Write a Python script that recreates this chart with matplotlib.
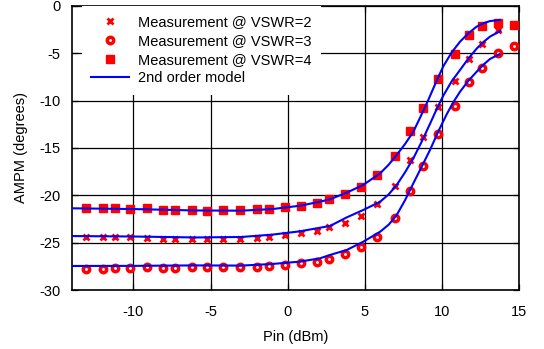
import numpy as np
import matplotlib
matplotlib.use("Agg")
import matplotlib.pyplot as plt

plt.rcParams['font.family'] = ['Liberation Sans', 'DejaVu Sans']

# Measurement input power points (dBm)
pin = [-13.05, -12.0, -11.2, -10.2, -9.15, -8.1, -7.3, -6.23, -5.22, -4.18,
       -3.1, -2.01, -1.24, -0.2, 0.87, 1.88, 2.7, 3.72, 4.75, 5.81,
       6.96, 7.95, 8.76, 9.77, 10.82, 11.78, 12.63, 13.66, 14.7]

vswr2 = [-24.4, -24.4, -24.4, -24.45, -24.5, -24.6, -24.6, -24.65, -24.65, -24.65,
         -24.65, -24.47, -24.37, -24.22, -24.0, -23.74, -23.38, -22.9, -22.18, -20.95,
         -19.0, -16.3, -13.87, -10.7, -7.92, -5.56, -4.05, -2.54, np.nan]

vswr3 = [-27.82, -27.78, -27.71, -27.64, -27.6, -27.64, -27.64, -27.57, -27.6, -27.6,
         -27.6, -27.54, -27.46, -27.36, -27.18, -27.0, -26.76, -26.2, -25.5, -24.37,
         -22.36, -19.5, -16.9, -13.5, -10.53, -8.06, -6.51, -4.93, -4.22]

vswr4 = [-21.3, -21.3, -21.3, -21.44, -21.37, -21.55, -21.55, -21.6, -21.62, -21.55,
         -21.55, -21.44, -21.44, -21.27, -21.1, -20.8, -20.35, -19.82, -19.08, -17.88,
         -15.81, -13.17, -10.81, -7.71, -5.1, -3.1, -2.08, -1.76, -2.0]

# 2nd order model curves
m4_x = [-14, -10, -6, -3, -1, 0.8, 2.1, 2.74, 3.83, 4.9, 6.0, 6.53, 7.07, 7.61, 8.15, 8.6,
        9.1, 9.66, 10.1, 10.64, 11.18, 11.72, 12.26, 12.69, 13.12, 13.75]
m4_y = [-21.37, -21.45, -21.6, -21.62, -21.45, -21.1, -20.67, -20.42, -19.72, -18.9, -17.67,
        -16.8, -15.74, -14.58, -13.28, -11.75, -10.0, -7.9, -6.35, -4.9, -3.77, -2.89,
        -2.18, -1.83, -1.6, -1.48]

m2_x = [-14, -10, -6, -3, -1, 0.8, 2.1, 2.74, 3.83, 4.9, 6.0, 6.55, 7.07, 7.6, 8.15, 8.7,
        9.23, 9.66, 10.1, 10.64, 11.18, 11.72, 12.26, 12.7, 13.12, 13.8]
m2_y = [-24.3, -24.35, -24.45, -24.4, -24.15, -23.8, -23.42, -23.24, -22.33, -21.55, -20.67,
        -19.9, -18.91, -17.6, -16.09, -14.3, -12.45, -10.9, -9.45, -7.95, -6.76, -5.55,
        -4.5, -3.8, -3.24, -2.64]

m3_x = [-14, -10, -6, -3, -1, 0.8, 2.1, 2.74, 3.83, 4.9, 6.0, 6.55, 7.07, 7.6, 8.15, 8.7,
        9.23, 9.77, 10.31, 10.75, 11.18, 11.72, 12.26, 12.7, 13.12, 13.73]
m3_y = [-27.46, -27.45, -27.4, -27.42, -27.25, -27.0, -26.65, -26.3, -25.77, -24.9, -23.84,
        -23.1, -22.08, -20.55, -18.73, -16.95, -15.21, -13.25, -11.45, -10.15, -9.05, -7.9,
        -6.94, -6.2, -5.6, -5.1]

xticks = [-10, -5, 0, 5, 10, 15]
yticks = [0, -5, -10, -15, -20, -25, -30]

fig = plt.figure(figsize=(5.44, 3.49), dpi=100)
ax = fig.add_axes([0.132, 0.169, 0.822, 0.814])

red = '#ff0000'
blue = '#0000ff'

ax.plot(pin, vswr2, linestyle='none', marker='x', color=red, markersize=5, mew=2,
        label='Measurement @ VSWR=2', zorder=3)
ax.plot(pin, vswr3, linestyle='none', marker='o', color=red, markersize=4.6,
        markerfacecolor='white', mec=red, mew=2.5, label='Measurement @ VSWR=3', zorder=3)
ax.plot(pin, vswr4, linestyle='none', marker='s', color=red, markersize=5.5,
        label='Measurement @ VSWR=4', zorder=3)
ax.plot(m4_x, m4_y, color=blue, lw=1.5, label='2nd order model', zorder=4)
ax.plot(m2_x, m2_y, color=blue, lw=1.5, zorder=4)
ax.plot(m3_x, m3_y, color=blue, lw=1.5, zorder=4)

ax.set_xlim(-14, 15)
ax.set_ylim(-30, 0)
ax.set_xticks(xticks)
ax.set_yticks(yticks)
ax.set_xticklabels([str(t) for t in xticks])
ax.set_yticklabels([str(t) for t in yticks])
ax.grid(True, color='black', lw=0.9)
ax.tick_params(direction='in', length=4, width=0.9, top=True, right=True, labelsize=10.5)
ax.tick_params(axis='x', pad=11)
ax.tick_params(axis='y', pad=8)
for s in ax.spines.values():
    s.set_linewidth(1.2)

ax.set_xlabel('Pin (dBm)', fontsize=10.5, labelpad=8)
ax.set_ylabel('AMPM (degrees)', fontsize=10.5, labelpad=8)

leg = ax.legend(loc='upper left', bbox_to_anchor=(0.022, 1.0), borderaxespad=0,
                frameon=True, fancybox=False, edgecolor='none', facecolor='white',
                framealpha=1, fontsize=10.5, handlelength=2.6, handletextpad=0.6,
                labelspacing=0.32, borderpad=0.65, numpoints=1)

fig.savefig('out.png', dpi=100)
